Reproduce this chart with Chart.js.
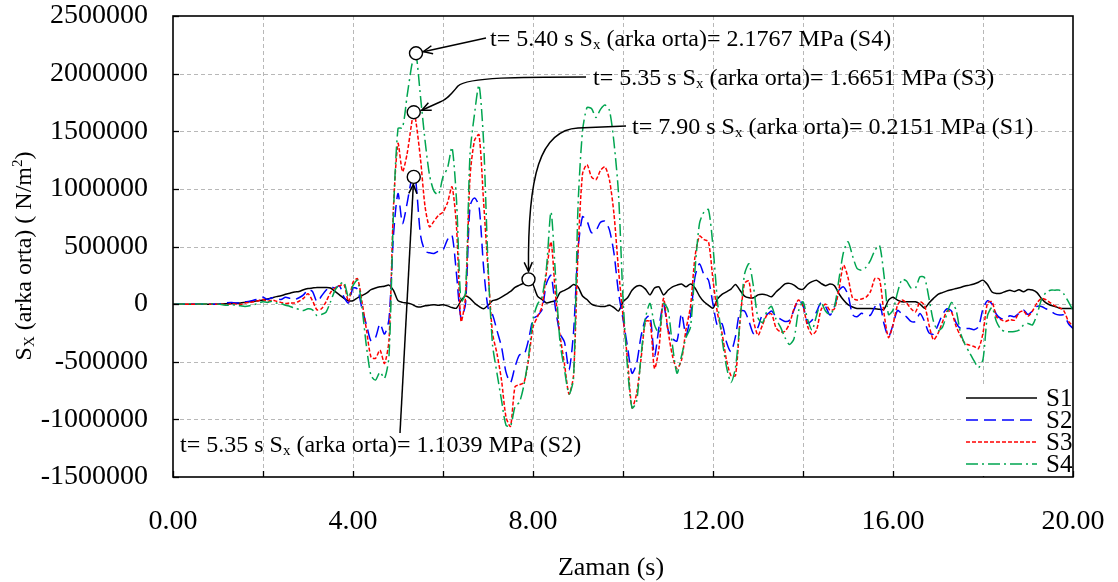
<!DOCTYPE html>
<html><head><meta charset="utf-8">
<script src="https://cdn.jsdelivr.net/npm/chart.js@4.4.1/dist/chart.umd.min.js"></script>
<style>html,body{margin:0;padding:0;background:#fff;}#wrap{width:1118px;height:582px;position:relative;}</style>
</head><body><div id="wrap"><canvas id="c" width="1118" height="582"></canvas></div>
<script>
// ---------------- DATA ----------------
// time (s)
const times = [0,
 1.0,1.1,1.2,1.3,1.4,1.5,1.6,1.7,1.8,1.9,
 2.0,2.1,2.2,2.3,2.4,2.5,2.6,2.7,2.8,2.9,
 3.0,3.1,3.2,3.3,3.4,3.5,3.6,3.7,3.8,3.9,
 4.0,4.1,4.2,4.3,4.4,4.5,4.6,4.7,4.8,4.9,
 5.0,5.1,5.2,5.3,5.35,5.4,5.5,5.6,5.7,5.8,5.9,
 6.0,6.1,6.2,6.3,6.4,6.5,6.6,6.7,6.8,6.9,
 7.0,7.1,7.2,7.3,7.4,7.5,7.6,7.7,7.8,7.9,
 8.0,8.1,8.2,8.3,8.4,8.5,8.6,8.7,8.8,8.9,
 9.0,9.1,9.2,9.3,9.4,9.5,9.6,9.7,9.8,9.9,
 10.0,10.1,10.2,10.3,10.4,10.5,10.6,10.7,10.8,10.9,
 11.0,11.1,11.2,11.3,11.4,11.5,11.6,11.7,11.8,11.9,
 12.0,12.1,12.2,12.3,12.4,12.5,12.6,12.7,12.8,12.9,
 13.0,13.1,13.2,13.3,13.4,13.5,13.6,13.7,13.8,13.9,
 14.0,14.1,14.2,14.3,14.4,14.5,14.6,14.7,14.8,14.9,
 15.0,15.1,15.2,15.3,15.4,15.5,15.6,15.7,15.8,15.9,
 16.0,16.1,16.2,16.3,16.4,16.5,16.6,16.7,16.8,16.9,
 17.0,17.1,17.2,17.3,17.4,17.5,17.6,17.7,17.8,17.9,
 18.0,18.1,18.2,18.3,18.4,18.5,18.6,18.7,18.8,18.9,
 19.0,19.1,19.2,19.3,19.4,19.5,19.6,19.7,19.8,19.9,
 20.0];

// Sx values in kN/m2 (x 1000 = N/m2)
const s1 = [0,
 0,2,4,6,8,10,15,20,25,30,
 35,45,55,65,72,85,95,105,110,125,
 135,140,145,145,145,140,110,80,50,30,
 30,55,75,95,125,140,150,155,165,120,
 30,15,10,0,-10,-20,-25,-15,-10,-5,-10,
 -5,-15,-30,-35,30,70,50,10,-20,-40,
 -10,30,40,60,85,110,145,165,185,230,
 170,70,40,10,20,30,100,120,140,170,
 150,70,40,0,-15,-20,-20,-10,-30,-60,
 20,55,120,155,160,130,80,140,150,80,
 120,150,165,175,150,175,140,70,20,-10,
 -35,45,85,107,130,170,120,70,55,55,
 80,85,78,64,105,140,175,180,165,135,
 130,170,195,208,180,160,175,160,90,35,
 -5,-25,-38,-38,-38,-38,-40,-45,-45,35,
 60,35,20,20,20,20,0,-35,10,50,
 85,100,115,125,135,145,158,165,175,190,
 208,170,105,93,95,110,120,110,125,107,
 127,122,100,49,10,-10,-20,-35,-38,-38,
 -38];

const s2 = [0,
 0,5,12,15,10,15,20,25,35,45,
 60,40,55,50,40,60,50,40,55,80,
 125,110,20,70,120,150,140,160,60,10,
 140,130,-40,-180,-320,-290,-170,-260,-130,600,
 960,700,870,1080,1104,1050,600,460,445,440,460,
 470,560,600,260,-120,0,850,920,850,330,
 -30,-90,-230,-370,-590,-680,-544,-440,-440,-312,
 -130,-100,-50,180,250,-40,-255,-330,-570,-250,
 468,758,720,620,640,710,720,642,440,100,
 -130,-370,-600,-520,-280,-130,-100,-450,-200,0,
 -220,-300,-320,-81,-270,-100,237,350,255,208,
 0,-190,-170,-330,-413,-280,-60,-60,-150,-255,
 -200,-90,-90,-60,-110,-130,-150,-140,-50,35,
 -10,-165,-140,-67,10,-20,-95,-20,120,150,
 80,-90,-110,-80,-95,-95,-23,10,-170,-283,
 -180,-55,-85,-110,-150,-150,-81,-150,-250,-260,
 -182,-90,-40,-60,-160,-211,-211,-211,-222,-197,
 -40,30,0,-90,-125,-125,-100,-110,-80,-50,
 -90,-60,-20,-20,-40,-60,-85,-95,-95,-170,
 -211];

const s3 = [0,
 0,0,-5,5,0,-5,10,15,20,30,
 40,25,35,25,15,5,10,10,25,50,
 90,30,-50,-40,20,100,140,160,170,20,
 190,220,20,-225,-460,-470,-400,-515,-312,845,
 1394,1150,1300,1560,1665,1580,1260,850,671,720,770,
 800,880,1018,671,-150,60,1100,1420,1470,900,
 300,-250,-430,-659,-980,-1060,-717,-700,-680,-486,
 -200,-110,-20,280,540,80,-270,-520,-780,-620,
 440,1130,1210,1105,1080,1160,1191,1076,780,300,
 -100,-480,-900,-780,-480,-150,-150,-560,-380,50,
 -230,-450,-560,-486,-220,-20,411,590,560,541,
 208,-80,-250,-486,-620,-620,-150,180,200,-139,
 -270,-180,-95,-85,-205,-240,-235,-170,-40,35,
 -20,-190,-265,-226,-50,0,-52,-40,130,338,
 230,55,35,45,60,110,223,215,-80,-290,
 -180,-10,35,10,-40,-67,20,-10,-180,-310,
 -255,-155,-60,-70,-190,-275,-341,-356,-368,-385,
 -250,10,20,-110,-135,-150,-135,-140,-75,-60,
 -105,-60,10,49,38,10,-15,-30,-60,-150,
 -190];

const s4 = [0,
 0,-5,-10,-5,-10,-15,-20,-15,-5,10,
 20,15,25,10,5,-10,-20,-35,-45,-55,
 -40,-50,-100,-90,-70,20,120,170,190,60,
 160,208,-30,-370,-620,-659,-590,-645,-450,800,
 1524,1530,1800,2060,2140,2177,1800,1423,1120,980,950,
 1105,1180,1360,902,20,100,1300,1650,1900,1423,
 350,-350,-600,-833,-1050,-1060,-891,-850,-700,-457,
 -130,0,60,320,800,250,-330,-570,-780,-650,
 845,1500,1705,1697,1620,1690,1727,1680,1400,960,
 50,-550,-900,-850,-450,-120,6,-180,-250,6,
 -50,-360,-600,-450,-290,-200,300,700,800,820,
 497,20,-300,-544,-680,-550,-150,260,350,150,
 -120,-160,-60,-20,-130,-200,-290,-350,-300,-60,
 20,-130,-226,-100,15,-60,-90,-23,220,450,
 541,420,310,295,320,380,468,510,250,-90,
 -52,100,215,200,140,140,237,230,50,-150,
 -230,-200,-80,15,-50,-250,-350,-420,-490,-550,
 -480,-100,-30,-153,-220,-238,-240,-238,-226,-182,
 -168,-180,-90,40,100,121,121,121,85,20,
 -52];

const VALUE_SCALE = 1000; // kN/m2 -> N/m2
const seriesNames = ['S1','S2','S3','S4'];
const seriesValues = [s1, s2, s3, s4];

// axis ticks
const xMin = 0, xMax = 20, xGridStep = 2, xLabelStep = 4;
const yMin = -1500000, yMax = 2500000, yStep = 500000;

// peak annotations
const annSeries = ['S4','S3','S1','S2'];
const annTimes  = [5.40, 5.35, 7.90, 5.35];
const annValues = [2176700, 1665100, 215100, 1103900];
const annLabels = [
  't= 5.40 s S|x| (arka orta)= 2.1767 MPa (S4)',
  't= 5.35 s S|x| (arka orta)= 1.6651 MPa (S3)',
  't= 7.90 s S|x| (arka orta)= 0.2151 MPa (S1)',
  't= 5.35 s S|x| (arka orta)= 1.1039 MPa (S2)'
];
const xTitle = 'Zaman (s)';

// ---------------- STYLE ----------------
const FONT = "'Liberation Serif','Times New Roman',serif";
const styles = [
  {color:'#000000', dash:[], width:1.5},
  {color:'#0000ff', dash:[12,6], width:1.5},
  {color:'#ff0000', dash:[4,2], width:1.5},
  {color:'#00a550', dash:[12,4,2,4], width:1.5}
];

function richParts(str){
  return str.split('|').map((t,i)=>({t, mode: i%2===1 ? 'sub' : 'n'}));
}
function partFont(p, size){
  const s = p.mode==='n' ? size : Math.round(size*0.62);
  return s + 'px ' + FONT;
}
function drawRich(ctx, parts, x, y, size, align){
  const widths = parts.map(p => { ctx.font = partFont(p,size); return ctx.measureText(p.t).width; });
  const total = widths.reduce((a,b)=>a+b,0);
  let cx = align==='center' ? x - total/2 : x;
  ctx.textAlign = 'left'; ctx.textBaseline = 'alphabetic';
  parts.forEach((p,i)=>{
    ctx.font = partFont(p,size);
    const dy = p.mode==='sub' ? size*0.12 : (p.mode==='sup' ? -size*0.38 : 0);
    ctx.fillText(p.t, cx, y+dy);
    cx += widths[i];
  });
}
function arrowHead(ctx, tx, ty, fx, fy){
  const ang = Math.atan2(ty-fy, tx-fx), L = 10, a = 0.42;
  ctx.beginPath();
  ctx.moveTo(tx - L*Math.cos(ang-a), ty - L*Math.sin(ang-a));
  ctx.lineTo(tx, ty);
  ctx.lineTo(tx - L*Math.cos(ang+a), ty - L*Math.sin(ang+a));
  ctx.stroke();
}

const customPlugin = {
  id:'custom',
  beforeDatasetsDraw(chart){
    const {ctx, chartArea:a, scales:{x,y}} = chart;
    ctx.save();
    ctx.strokeStyle = '#b8b8b8'; ctx.lineWidth = 1; ctx.setLineDash([4,3]);
    for (let v = xMin + xGridStep; v < xMax; v += xGridStep){
      const px = Math.round(x.getPixelForValue(v)) + 0.5;
      ctx.beginPath(); ctx.moveTo(px, a.top); ctx.lineTo(px, a.bottom); ctx.stroke();
    }
    y.ticks.forEach(t=>{
      if (t.value <= yMin || t.value >= yMax) return;
      const py = Math.round(y.getPixelForValue(t.value)) + 0.5;
      ctx.beginPath(); ctx.moveTo(a.left, py); ctx.lineTo(a.right, py); ctx.stroke();
    });
    ctx.restore();
  },
  afterDatasetsDraw(chart){
    const {ctx, chartArea:a, scales:{x,y}} = chart;
    ctx.save();
    // frame
    ctx.setLineDash([]); ctx.strokeStyle = '#000'; ctx.lineWidth = 1.6;
    ctx.strokeRect(a.left, a.top, a.right-a.left, a.bottom-a.top);
    // inner tick marks
    ctx.lineWidth = 1.3;
    y.ticks.forEach(t=>{
      const py = Math.round(y.getPixelForValue(t.value)) + 0.5;
      ctx.beginPath(); ctx.moveTo(a.left, py); ctx.lineTo(a.left+6, py); ctx.stroke();
    });
    for (let v = xMin; v <= xMax; v += xGridStep){
      const px = Math.round(x.getPixelForValue(v)) + 0.5;
      ctx.beginPath(); ctx.moveTo(px, a.bottom); ctx.lineTo(px, a.bottom-6); ctx.stroke();
    }

    // legend (inside, lower right)
    ctx.fillStyle = '#fff';
    ctx.fillRect(a.right-111, a.bottom-92, 110, 91);
    seriesNames.forEach((n,i)=>{
      const ly = a.bottom - 79 + i*22;
      ctx.strokeStyle = styles[i].color; ctx.lineWidth = 1.6; ctx.setLineDash(styles[i].dash);
      ctx.beginPath(); ctx.moveTo(a.right-107, ly); ctx.lineTo(a.right-36, ly); ctx.stroke();
      ctx.setLineDash([]);
      ctx.fillStyle = '#000'; ctx.font = '25px '+FONT; ctx.textAlign='left'; ctx.textBaseline='middle';
      ctx.fillText(n, a.right-27, ly+1);
    });

    // annotations
    ctx.setLineDash([]); ctx.strokeStyle='#000'; ctx.lineWidth=1.5; ctx.fillStyle='#000';
    const R = 6.5;
    const cs = annTimes.map((t,i)=>({x:x.getPixelForValue(t), y:y.getPixelForValue(annValues[i])}));
    // text anchors (left edge, baseline) in pixels
    const tAnch = [{x:490,y:46},{x:593,y:85},{x:632,y:134},{x:180,y:452}];
    {
      const c = cs[0], s = {x:486, y:38};
      const d = Math.hypot(s.x-c.x, s.y-c.y), ex = c.x + (s.x-c.x)/d*(R+1), ey = c.y + (s.y-c.y)/d*(R+1);
      ctx.beginPath(); ctx.moveTo(s.x,s.y); ctx.lineTo(ex,ey); ctx.stroke();
      arrowHead(ctx, ex, ey, s.x, s.y);
    }
    {
      const c = cs[1]; const ex = c.x + R + 1.5, ey = c.y - 2;
      ctx.beginPath(); ctx.moveTo(586,77);
      ctx.bezierCurveTo(520,77, 468,77, 458,86);
      ctx.bezierCurveTo(452,93, 448,99, 440,102);
      ctx.lineTo(ex,ey); ctx.stroke();
      arrowHead(ctx, ex, ey, 440, 102);
    }
    {
      const c = cs[2]; const ex = c.x, ey = c.y - R - 1.5;
      ctx.beginPath(); ctx.moveTo(626,126); ctx.lineTo(578,128);
      ctx.bezierCurveTo(540,130, ex-1,175, ex, ey); ctx.stroke();
      arrowHead(ctx, ex, ey, ex-0.5, ey-20);
    }
    {
      const c = cs[3], s = {x:400, y:433};
      const d = Math.hypot(s.x-c.x, s.y-c.y), ex = c.x + (s.x-c.x)/d*(R+1), ey = c.y + (s.y-c.y)/d*(R+1);
      ctx.beginPath(); ctx.moveTo(s.x,s.y); ctx.lineTo(ex,ey); ctx.stroke();
      arrowHead(ctx, ex, ey, s.x, s.y);
    }
    cs.forEach(c=>{
      ctx.beginPath(); ctx.arc(c.x, c.y, R, 0, Math.PI*2);
      ctx.fillStyle='#fff'; ctx.fill(); ctx.lineWidth=1.4; ctx.strokeStyle='#000'; ctx.stroke();
    });
    ctx.fillStyle = '#000';
    annLabels.forEach((lab,i)=> drawRich(ctx, richParts(lab), tAnch[i].x, tAnch[i].y, 24, 'left'));

    // axis titles
    ctx.fillStyle = '#000';
    drawRich(ctx, [{t:xTitle, mode:'n'}], 611, 575, 26, 'center');
    ctx.save();
    ctx.translate(31, 256); ctx.rotate(-Math.PI/2);
    drawRich(ctx, [{t:'S',mode:'n'},{t:'X',mode:'sub'},{t:' (arka orta) ( N/m',mode:'n'},{t:'2',mode:'sup'},{t:')',mode:'n'}], 0, 0, 24, 'center');
    ctx.restore();
    ctx.restore();
  }
};

const datasets = seriesValues.map((arr,i)=>({
  label: seriesNames[i],
  data: times.map((t,k)=>({x:t, y:arr[k]*VALUE_SCALE})),
  borderColor: styles[i].color,
  borderDash: styles[i].dash,
  borderWidth: styles[i].width,
  pointRadius: 0,
  tension: 0.25,
  fill: false,
  order: 4 - i
}));

new Chart(document.getElementById('c'), {
  type:'line',
  data:{datasets},
  options:{
    responsive:false, animation:false, devicePixelRatio:1,
    layout:{padding:{left:0, right:45, top:16, bottom:0}},
    plugins:{legend:{display:false}, tooltip:{enabled:false}},
    scales:{
      x:{type:'linear', min:xMin, max:xMax,
         afterFit(s){ s.height = 105; s.paddingLeft = 0; s.paddingRight = 0; },
         grid:{display:true, drawOnChartArea:false, drawTicks:true, tickLength:28, tickColor:'rgba(0,0,0,0)'},
         border:{display:false},
         ticks:{stepSize:xGridStep, autoSkip:false, maxRotation:0, padding:0, color:'#000',
                font:{family:FONT, size:28},
                callback:(v)=> (v % xLabelStep === 0 ? Number(v).toFixed(2) : '')}},
      y:{type:'linear', min:yMin, max:yMax,
         afterFit(s){ s.width = 173; s.paddingTop = 0; s.paddingBottom = 0; },
         grid:{display:true, drawOnChartArea:false, drawTicks:true, tickLength:25, tickColor:'rgba(0,0,0,0)'},
         border:{display:false},
         ticks:{stepSize:yStep, padding:0, color:'#000', font:{family:FONT, size:28},
                callback:(v)=> String(v)}}
    }
  },
  plugins:[customPlugin]
});
</script></body></html>
